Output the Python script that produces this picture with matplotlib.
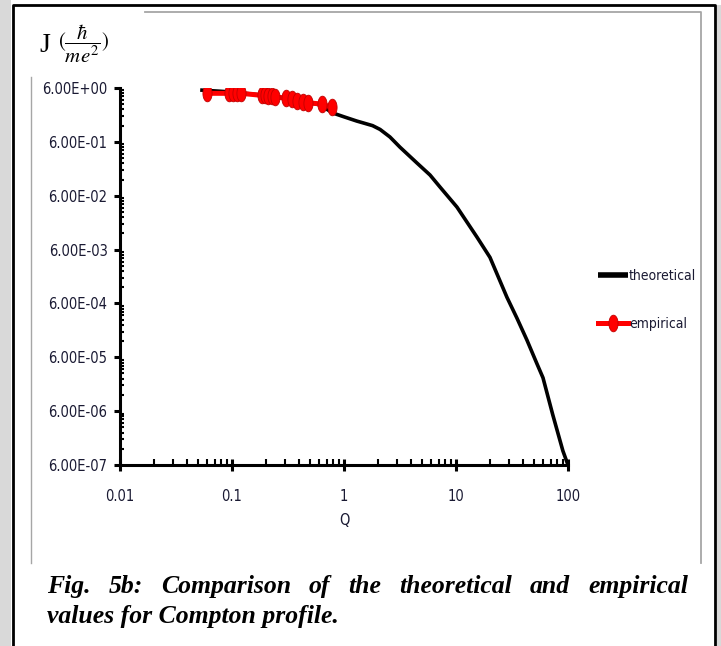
# -*- coding: utf-8 -*-

import matplotlib
matplotlib.use("Agg")
from matplotlib import pyplot as plt
from matplotlib.lines import Line2D
from matplotlib.path import Path
from matplotlib.ticker import FixedLocator, FuncFormatter, NullFormatter
import numpy as np


# data
theo_q = [0.052, 0.1, 0.218, 0.405, 0.61, 0.8, 1.0, 1.3, 1.5, 1.8, 2.1, 2.57,
          3.16, 4.49, 5.86, 7.2, 10.2, 15.4, 20.1, 28.5, 35, 43,
          52.7, 59.8, 73, 90, 100]
theo_j = [5.5, 5.06, 4.27, 3.57, 2.9, 2.05, 1.75, 1.46, 1.34, 1.2, 1.02, 0.74,
          0.478, 0.242, 0.1455, 0.0869, 0.0369, 0.0102, 0.0043,
          7.8e-4, 3.2e-4, 1.25e-4, 4.6e-5, 2.5e-5, 5.2e-6, 1.1e-6, 6e-7]

emp_q = [0.0602, 0.0946, 0.1027, 0.110, 0.1197, 0.184, 0.197, 0.211, 0.226,
         0.242, 0.303, 0.341, 0.383, 0.433, 0.480, 0.632, 0.786]
emp_j = [4.78, 4.78, 4.78, 4.78, 4.78, 4.38, 4.38, 4.26, 4.26, 4.13, 3.86,
         3.69, 3.48, 3.33, 3.19, 3.02, 2.62]

y_ticks = [6e-7, 6e-6, 6e-5, 6e-4, 6e-3, 6e-2, 6e-1, 6e0]
x_ticks = [0.01, 0.1, 1, 10, 100]
x_labels = ["0.01", "0.1", "1", "10", "100"]

caption1 = "Fig. 5b: Comparison of the theoretical and empirical"
caption2 = "values for Compton profile."

SANS = ["DejaVu Sans"]
SERIF = ["Liberation Serif", "DejaVu Serif"]
INK = "#1a1a33"
W, H = 721.0, 646.0


def fx(px):
    return px / W


def fy(py):
    return 1 - py / H


def ellipse_marker():
    t = np.linspace(0, 2 * np.pi, 40)
    verts = np.column_stack([0.55 * np.cos(t), np.sin(t)])
    return Path(verts, closed=True)


def narrow(t, size):
    t.set_family(SANS)
    t.set_stretch("condensed")
    t.set_size(size)
    t.set_color(INK)


def draw_chart():
    fig = plt.figure(figsize=(7.21, 6.46), dpi=100)
    fig.patch.set_facecolor("white")
    plt.rcParams["mathtext.fontset"] = "stix"

    # page frame
    fig.add_artist(plt.Rectangle((0, 0), fx(11), 1, transform=fig.transFigure,
                                 color="#d9d9d9", lw=0))
    fig.add_artist(plt.Rectangle((fx(717), 0), fx(4), fy(5), transform=fig.transFigure,
                                 color="#d9d9d9", lw=0))
    fig.add_artist(Line2D([fx(13), fx(13), fx(715), fx(715)], [0, fy(5), fy(5), 0],
                          transform=fig.transFigure, color="black", lw=2))
    # chart area border (light gray)
    fig.add_artist(Line2D([fx(31), fx(31)], [fy(77), fy(563)],
                          transform=fig.transFigure, color="#a6a6a6", lw=1))
    fig.add_artist(Line2D([fx(145), fx(701), fx(701)], [fy(12), fy(12), fy(563)],
                          transform=fig.transFigure, color="#a6a6a6", lw=1.3))

    ax = fig.add_axes([fx(120), fy(465), fx(568) - fx(120), fy(88) - fy(465)])
    ax.set_xscale("log")
    ax.set_yscale("log")
    ax.set_xlim(0.01, 100)
    ax.set_ylim(6e-7, 6e0)

    ax.plot(theo_q, theo_j, color="black", lw=2.6, label="theoretical",
            solid_capstyle="butt", solid_joinstyle="round", zorder=2)
    ax.plot(emp_q, emp_j, color="red", lw=3.6, marker=ellipse_marker(), ms=12,
            mfc="red", mec="#c00000", mew=0.6, label="empirical", zorder=3)

    for s in ["top", "right"]:
        ax.spines[s].set_visible(False)
    for s in ["left", "bottom"]:
        ax.spines[s].set_linewidth(2.2)

    ax.yaxis.set_major_locator(FixedLocator(y_ticks))
    minors = [v * m / 10.0 for v in y_ticks[1:] for m in range(2, 10)]
    ax.yaxis.set_minor_locator(FixedLocator(minors))
    ax.yaxis.set_major_formatter(FuncFormatter(lambda v, p: "%.2E" % v))
    ax.yaxis.set_minor_formatter(NullFormatter())
    ax.xaxis.set_major_locator(FixedLocator(x_ticks))
    ax.set_xticklabels(x_labels)
    ax.xaxis.set_minor_locator(FixedLocator(
        [v * m for v in x_ticks[:-1] for m in range(2, 10)]))
    ax.xaxis.set_minor_formatter(NullFormatter())

    ax.tick_params(axis="y", which="major", direction="out", length=4, width=2.2, pad=5)
    ax.tick_params(axis="y", which="minor", direction="in", length=3, width=1.5)
    ax.tick_params(axis="x", which="major", direction="inout", length=9, width=2.2, pad=13)
    ax.tick_params(axis="x", which="minor", direction="in", length=4, width=1.5)
    for lab in ax.get_xticklabels() + ax.get_yticklabels():
        narrow(lab, 10.5)

    ax.set_xlabel("Q", labelpad=6)
    narrow(ax.xaxis.label, 10.5)

    leg = ax.legend(loc="upper left", bbox_to_anchor=(fx(585), fy(256)),
                    bbox_transform=fig.transFigure, frameon=False,
                    handlelength=2.2, handletextpad=0.05, labelspacing=2.5,
                    prop={"family": SANS, "stretch": "condensed", "size": 10})
    for t in leg.get_texts():
        t.set_color(INK)
    leg.get_lines()[0].set_linewidth(4)

    # axis title at top left
    fig.text(fx(39), fy(45), "J", family=SERIF, fontsize=20, va="center", ha="left")
    fig.text(fx(58), fy(44), r"$(\dfrac{\hbar}{me^2})$", fontsize=15,
             va="center", ha="left")

    # caption, first line justified
    renderer = fig.canvas.get_renderer()
    words = caption1.split()
    texts = [fig.text(0, fy(593), w, family=SERIF, fontsize=18.5, weight="bold",
                      style="italic", va="baseline") for w in words]
    widths = [t.get_window_extent(renderer).width for t in texts]
    left, right = 47.0, 688.0
    gap = (right - left - sum(widths)) / (len(words) - 1)
    x = left
    for t, w in zip(texts, widths):
        t.set_x(fx(x))
        x += w + gap
    fig.text(fx(left), fy(623), caption2, family=SERIF, fontsize=18.5, weight="bold",
             style="italic", va="baseline")

    fig.savefig("out.png", dpi=100)


if __name__ == "__main__":
    draw_chart()
